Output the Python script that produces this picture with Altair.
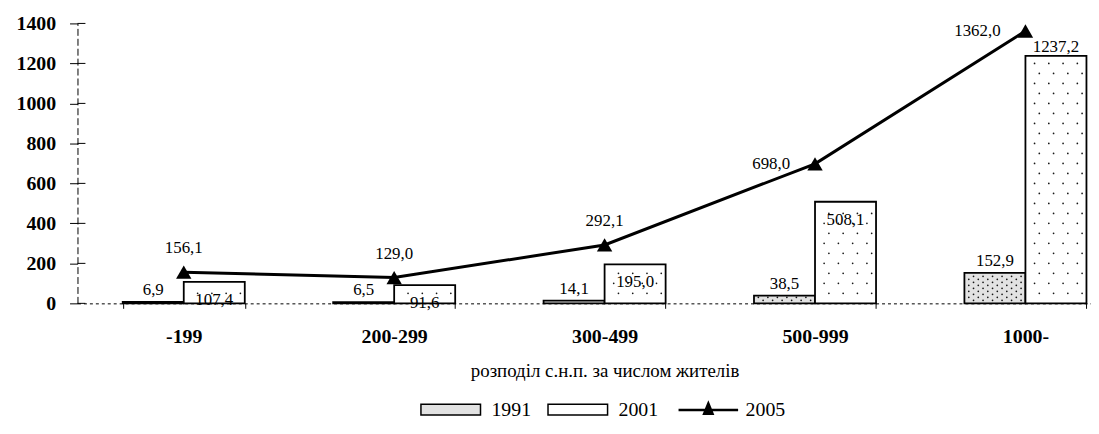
import altair as alt
import pandas as pd

categories = ["-199", "200-299", "300-499", "500-999", "1000-"]
v1991 = [6.9, 6.5, 14.1, 38.5, 152.9]
v2001 = [107.4, 91.6, 195.0, 508.1, 1237.2]
v2005 = [156.1, 129.0, 292.1, 698.0, 1362.0]
series_bars = ["1991", "2001"]
series_line = ["2005"]
y_ticks = [0, 200, 400, 600, 800, 1000, 1200, 1400]
x_title = "розподіл с.н.п. за числом жителів"

bars = pd.DataFrame({
    "cat": categories * 2,
    "series": [series_bars[0]] * 5 + [series_bars[1]] * 5,
    "value": v1991 + v2001,
})
line = pd.DataFrame({"cat": categories, "series": series_line * 5, "value": v2005})
ticks_df = pd.DataFrame({"t": y_ticks})

FONT = "Liberation Serif, Times New Roman, serif"
W, H = 1021, 282
LBL = "replace(format(datum.value, '.1f'), '.', ',')"
X_RANGE = 1062
PAD_IN, PAD_OUT = 0.42, 0.215

xscale = alt.Scale(domain=categories, range=[0, X_RANGE], paddingInner=PAD_IN, paddingOuter=PAD_OUT)
yscale = alt.Scale(domain=[0, 1400], nice=False)
offscale = alt.Scale(domain=series_bars, paddingInner=0, paddingOuter=0)

# geometry of one bar inside a band (used for the dot texture only)
STEP = X_RANGE / (len(categories) - PAD_IN + 2 * PAD_OUT)
BAR_W = STEP * (1 - PAD_IN) / 2

xaxis = alt.Axis(labelAngle=0, labelFont=FONT, labelFontSize=20, labelFontWeight="bold",
                 labelColor="black", labelPadding=18, ticks=True, tickBand="extent", tickSize=5,
                 tickColor="black", domainColor="black", domainDash=[3, 3], domainWidth=1,
                 title=x_title, titleFont=FONT, titleFontSize=19, titleFontWeight="normal",
                 titleColor="black", titlePadding=16)
yaxis = alt.Axis(values=y_ticks, format="d", labelFont=FONT, labelFontSize=20, labelFontWeight="bold",
                 labelColor="black", tickColor="black", tickSize=8, labelPadding=14,
                 domainColor="black", domainDash=[7, 3], grid=False, title=None)

X = alt.X("cat:N", scale=xscale, sort=categories, axis=xaxis)
XO = alt.XOffset("series:N", scale=offscale)


def Y(axis=None, field="value:Q"):
    return alt.Y(field, scale=yscale, axis=axis)


bar_base = alt.Chart(bars).transform_calculate(label=LBL)
line_base = alt.Chart(line).transform_calculate(label=LBL)

bar_layer = bar_base.mark_bar(stroke="black", strokeWidth=1.8).encode(
    x=X, xOffset=XO, y=Y(yaxis),
    fill=alt.Fill("series:N", scale=alt.Scale(domain=series_bars, range=["#e2e2e2", "#ffffff"]),
                  legend=alt.Legend(orient="none", legendX=345, legendY=358, direction="horizontal",
                                    title=None, symbolType="M-1,-0.18H1V0.18H-1Z", symbolSize=3600,
                                    symbolStrokeColor="black", symbolStrokeWidth=1.5,
                                    labelFont=FONT, labelFontSize=20, labelColor="black",
                                    labelOffset=10, columnPadding=14, padding=0)),
)

# dotted texture inside the bars: one layer per series and texture column
dot_rows = bar_base.transform_calculate(
    step="datum.series == '1991' ? 15 : 50"
).transform_calculate(
    rows="sequence(datum.step, datum.value - datum.step * 0.4, datum.step)"
).transform_flatten(["rows"], as_=["r"]).transform_calculate(
    ri="round(datum.r / datum.step)"
)
N_COL = 12
COL_W = (BAR_W - 4) / N_COL
dot_layers = []
for si, s in enumerate(series_bars):
    shift = (si - 0.5) * BAR_W
    for k in range(N_COL):
        if s == "1991":
            cond = "datum.series == '1991' && (%d + datum.ri) %% 2 == 0" % k
        else:
            cond = "datum.series == '2001' && (%d + (datum.ri %% 2) * 2) %% 3 == 1" % k
        dot_layers.append(
            dot_rows.transform_filter(cond).mark_circle(
                size=3, color="black", opacity=0.9,
                xOffset=shift + (k - (N_COL - 1) / 2) * COL_W
            ).encode(x=X, y=Y(field="r:Q"))
        )

txt = dict(font=FONT, fontSize=17, color="black")

lbl1991 = bar_base.transform_filter("datum.series == '1991'").mark_text(
    baseline="bottom", dy=-3, **txt).encode(x=X, xOffset=XO, y=Y(), text="label:N")
lbl2001 = bar_base.transform_filter("datum.series == '2001' && datum.value < 1000").mark_text(
    baseline="top", dy=10, **txt).encode(x=X, xOffset=XO, y=Y(), text="label:N")
lbl2001b = bar_base.transform_filter("datum.series == '2001' && datum.value >= 1000").mark_text(
    baseline="bottom", dy=0, **txt).encode(x=X, xOffset=XO, y=Y(), text="label:N")

inner_ticks = alt.Chart(ticks_df).mark_rule(color="black", strokeWidth=1).encode(
    y=Y(field="t:Q"), x=alt.value(0), x2=alt.value(8))

line_layer = line_base.mark_line(strokeWidth=3).encode(
    x=X, y=Y(),
    stroke=alt.Stroke("series:N", scale=alt.Scale(domain=series_line, range=["black"]),
                      legend=alt.Legend(orient="none", legendX=604, legendY=358, direction="horizontal",
                                        title=None, symbolType="M-1,0H1M0,-0.22L0.14,0.12H-0.14Z",
                                        symbolSize=3600, symbolStrokeWidth=2.5, symbolFillColor="black",
                                        labelFont=FONT, labelFontSize=20, labelColor="black",
                                        labelOffset=6, padding=0)),
)
pts = line_base.mark_point(shape="triangle-up", filled=True, size=240, color="black", opacity=1).encode(
    x=X, y=Y())
lbl2005a = line_base.transform_filter(
    alt.FieldOneOfPredicate(field="cat", oneOf=categories[:3])).mark_text(
    baseline="bottom", dy=-15, **txt).encode(x=X, y=Y(), text="label:N")
lbl2005b = line_base.transform_filter(
    alt.FieldOneOfPredicate(field="cat", oneOf=categories[3:])).mark_text(
    baseline="middle", align="right", dx=-25, dy=0, **txt).encode(x=X, y=Y(), text="label:N")

chart = alt.layer(
    bar_layer, *dot_layers, lbl1991, lbl2001, lbl2001b, inner_ticks, line_layer, pts, lbl2005a, lbl2005b
).properties(
    width=W, height=H,
    autosize=alt.AutoSizeParams(type="none"),
    padding={"left": 70, "top": 14, "right": 0, "bottom": 120},
).resolve_axis(y="independent").configure_view(stroke=None)

chart.save("out.html", embed_options={"renderer": "svg", "actions": False})
